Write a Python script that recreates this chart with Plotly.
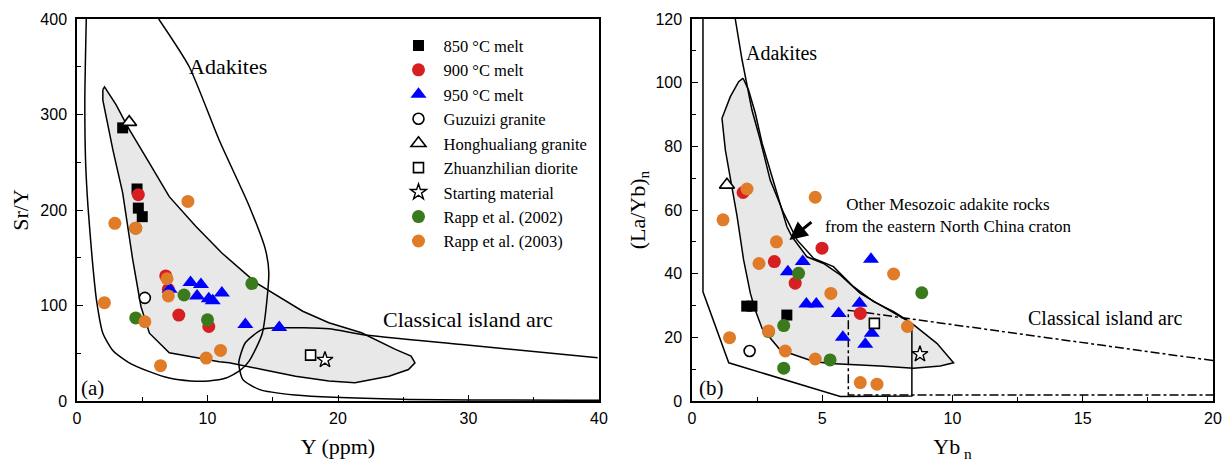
import plotly.graph_objects as go
from plotly.subplots import make_subplots

# ---------------- Panel (a): Sr/Y vs Y ----------------
a_850_x = [3.5, 4.6, 4.7, 5.0]
a_850_y = [286, 222, 202, 193]
a_900_x = [4.7, 6.8, 7.0, 7.8, 10.1]
a_900_y = [216, 131, 117, 90, 78]
a_950_x = [7.1, 8.7, 9.5, 9.2, 10.1, 10.4, 11.1, 12.9, 15.5]
a_950_y = [117, 124, 122, 110, 107, 105, 113, 80, 77]
a_guz_x, a_guz_y = [5.2], [108]
a_hong_x, a_hong_y = [4.0], [292]
a_zhuan_x, a_zhuan_y = [17.9], [48]
a_start_x, a_start_y = [19.0], [43]
a_r02_x = [4.5, 4.5, 8.2, 10.0, 13.4]
a_r02_y = [181, 87, 111, 85, 123]
a_r03_x = [2.9, 4.5, 8.5, 6.9, 7.0, 2.1, 5.2, 6.4, 9.9, 11.0]
a_r03_y = [186, 181, 209, 128, 110, 103, 83, 37, 45, 53]

# field boundaries (a)
a_adak_x = [0.71, 0.6, 0.66, 0.84, 1.17, 1.5, 1.98, 2.8, 4.0, 5.5, 7.07, 8.7, 10.1, 11.4, 12.5, 13.2, 14.2, 14.7, 14.45, 13.2, 10.9, 8.6, 6.26]
a_adak_y = [400, 315, 250, 204, 148, 105, 71, 52, 40, 31, 24, 21, 21, 24, 32, 42, 71, 134, 158, 204, 273, 350, 400]
a_meso_x = [1.98, 2.11, 3.0, 3.89, 5.55, 7.07, 9.1, 11.1, 13.7, 17.3, 19.3, 21.8, 24.4, 25.6, 25.9, 25.4, 23.9, 21.3, 19.3, 16.75, 14.2, 11.66, 10.9, 7.07, 5.55, 4.9, 4.27, 3.5, 2.75, 1.98, 1.98]
a_meso_y = [326, 329, 310, 287, 249, 214, 183, 155, 124, 94, 82, 71.5, 54, 47, 40, 33, 26, 19.2, 20.9, 26, 33, 40, 41, 50.5, 71, 99, 148, 218, 263, 315, 326]
a_arc_x = [39.9, 29.5, 21.8, 19.3, 15.5, 14.2, 12.9, 12.4, 12.7, 13.95, 16.7, 24.9, 40.0]
a_arc_y = [45.3, 59.2, 69.7, 75.6, 76.7, 75, 61, 40, 22.7, 12.2, 6.3, 1.8, 0.8]

# ---------------- Panel (b): (La/Yb)n vs Ybn ----------------
b_850_x = [2.1, 2.3, 3.64]
b_850_y = [29.8, 29.8, 27]
b_900_x = [1.96, 3.16, 3.96, 4.99, 6.46]
b_900_y = [65.5, 43.8, 37, 48, 27.5]
b_950_x = [3.68, 4.25, 4.39, 4.77, 5.63, 6.43, 5.79, 6.65, 6.9, 6.87]
b_950_y = [40.6, 43.8, 30.5, 30.5, 27.5, 30.7, 20, 17.8, 21.3, 44.5]
b_guz_x, b_guz_y = [2.21], [15.7]
b_hong_x, b_hong_y = [1.34], [67.9]
b_zhuan_x, b_zhuan_y = [7.0], [24.4]
b_start_x, b_start_y = [8.75], [14.7]
b_r02_x = [4.09, 3.52, 2.94, 3.52, 5.3, 8.82]
b_r02_y = [40.1, 23.7, 21.8, 10.3, 12.9, 34]
b_r03_x = [2.11, 1.19, 4.73, 3.24, 2.57, 5.33, 7.74, 2.94, 1.44, 3.58, 4.73, 6.46, 7.1, 8.27]
b_r03_y = [66.6, 56.9, 64, 50, 43.2, 33.8, 39.9, 22, 19.9, 15.7, 13.2, 5.8, 5.3, 23.4]

b_adak_x = [0.42, 0.42, 1.41, 5.69, 8.44, 8.44, 8.25, 7.74, 6.97, 6.2, 5.43, 4.67, 4.03, 3.52, 3.0, 2.62, 2.3, 2.11, 1.92, 1.66]
b_adak_y = [120, 34.3, 12, 1.4, 1.6, 23.9, 25.4, 28.1, 31.2, 35.9, 42.2, 44.8, 50.6, 59, 69.4, 82, 91.4, 99.8, 107.2, 120]
b_meso_x = [1.96, 2.17, 2.43, 2.69, 3.07, 3.64, 3.84, 4.41, 5.05, 5.69, 6.46, 7.22, 7.99, 8.44, 9.4, 10.04, 9.53, 8.5, 7.22, 5.3, 4.67, 3.39, 2.69, 2.43, 2.24, 1.98, 1.73, 1.47, 1.28, 1.15, 1.47, 1.79, 1.96]
b_meso_y = [101.4, 97.7, 90.4, 81, 70.5, 54.8, 51.6, 45.3, 43.2, 39.6, 33.8, 30.2, 26.5, 24.4, 18.1, 12.0, 11, 10.3, 11, 11.8, 12.4, 16, 22.8, 28.5, 33.8, 44.3, 58, 69.4, 78.8, 88.8, 95.6, 100.3, 101.4]
b_arc_x = [20.0, 6.0, 6.0, 20.0]
b_arc_y = [12.7, 28.5, 1.9, 1.9]

# ---------------- styles ----------------
SERIF = "Liberation Serif"
SANS = "Liberation Sans"
series = [
    ("850 °C melt", dict(symbol="square", color="black", size=11, line=dict(width=0)), (a_850_x, a_850_y), (b_850_x, b_850_y), 1),
    ("900 °C melt", dict(symbol="circle", color="#d71f22", size=13, line=dict(width=0)), (a_900_x, a_900_y), (b_900_x, b_900_y), 2),
    ("950 °C melt", dict(symbol="triangle-up", color="#0000ff", size=14, line=dict(width=0)), (a_950_x, a_950_y), (b_950_x, b_950_y), 3),
    ("Guzuizi granite", dict(symbol="circle", color="white", size=11, line=dict(width=1.6, color="black")), (a_guz_x, a_guz_y), (b_guz_x, b_guz_y), 4),
    ("Honghualiang granite", dict(symbol="triangle-up", color="white", size=13, line=dict(width=1.6, color="black")), (a_hong_x, a_hong_y), (b_hong_x, b_hong_y), 5),
    ("Zhuanzhilian diorite", dict(symbol="square", color="white", size=10, line=dict(width=1.6, color="black")), (a_zhuan_x, a_zhuan_y), (b_zhuan_x, b_zhuan_y), 6),
    ("Starting material", dict(symbol="star", color="white", size=12, line=dict(width=1.4, color="black")), (a_start_x, a_start_y), (b_start_x, b_start_y), 7),
    ("Rapp et al. (2002)", dict(symbol="circle", color="#3a7a1c", size=13, line=dict(width=0)), (a_r02_x, a_r02_y), (b_r02_x, b_r02_y), 8),
    ("Rapp et al. (2003)", dict(symbol="circle", color="#e07b27", size=13, line=dict(width=0)), (a_r03_x, a_r03_y), (b_r03_x, b_r03_y), 9),
]

fig = make_subplots(rows=1, cols=2, horizontal_spacing=0.0)

LINE = dict(color="black", width=1.5)
# Fields panel (a)
fig.add_trace(go.Scatter(x=a_meso_x, y=a_meso_y, mode="lines", fill="toself", fillcolor="#e8e8e8",
                         line=LINE, showlegend=False, hoverinfo="skip"), row=1, col=1)
fig.add_trace(go.Scatter(x=a_adak_x, y=a_adak_y, mode="lines", line=dict(LINE, shape="spline", smoothing=0.6),
                         showlegend=False, hoverinfo="skip"), row=1, col=1)
fig.add_trace(go.Scatter(x=a_arc_x, y=a_arc_y, mode="lines", line=dict(LINE, shape="spline", smoothing=0.6),
                         showlegend=False, hoverinfo="skip"), row=1, col=1)
# Fields panel (b)
fig.add_trace(go.Scatter(x=b_meso_x, y=b_meso_y, mode="lines", fill="toself", fillcolor="#e8e8e8",
                         line=LINE, showlegend=False, hoverinfo="skip"), row=1, col=2)
fig.add_trace(go.Scatter(x=b_adak_x, y=b_adak_y, mode="lines", line=LINE,
                         showlegend=False, hoverinfo="skip"), row=1, col=2)
fig.add_trace(go.Scatter(x=b_arc_x, y=b_arc_y, mode="lines", line=dict(color="black", width=1.5, dash="dashdot"),
                         showlegend=False, hoverinfo="skip"), row=1, col=2)

# Draw order: 850, 900, 950, open symbols, Rapp 2002, Rapp 2003
for name, mk, (ax_, ay_), (bx_, by_), rank in series:
    fig.add_trace(go.Scatter(x=ax_, y=ay_, mode="markers", name=name, marker=mk,
                             legendgroup=name, showlegend=True, legendrank=rank), row=1, col=1)
    fig.add_trace(go.Scatter(x=bx_, y=by_, mode="markers", name=name, marker=mk,
                             legendgroup=name, showlegend=False), row=1, col=2)

axis_common = dict(showline=True, linecolor="black", linewidth=1.5, mirror=True, ticks="inside",
                   ticklen=6, tickwidth=1.2, tickcolor="black", showgrid=False, zeroline=False,
                   automargin=False,
                   tickfont=dict(family=SANS, size=16, color="black"),
                   minor=dict(ticks="inside", ticklen=4, tickwidth=1.2, tickcolor="black", showgrid=False))

fig.update_xaxes(axis_common)
fig.update_yaxes(axis_common)

TF = dict(family=SERIF, size=22, color="black")
fig.update_xaxes(range=[0, 40], dtick=10, minor_dtick=5, domain=[0, 0.4595], row=1, col=1,
                 ticklabelstandoff=2, title=dict(text="Y (ppm)", font=TF, standoff=13))
fig.update_yaxes(range=[0, 400], dtick=100, minor_dtick=50, row=1, col=1,
                 ticklabelstandoff=5, title=dict(text="Sr/Y", font=TF, standoff=12))
fig.update_xaxes(range=[0, 20], dtick=5, minor_dtick=2.5, domain=[0.5414, 1.0], row=1, col=2,
                 ticklabelstandoff=2, title=dict(text="Yb<sub> n</sub>", font=TF, standoff=13))
fig.update_yaxes(range=[0, 120], dtick=20, minor_dtick=10, row=1, col=2,
                 ticklabelstandoff=5, title=dict(text="(La/Yb)<sub>n</sub>", font=TF, standoff=4))

def txt(x, y, s, size, xref, yref, **kw):
    fig.add_annotation(x=x, y=y, text=s, xref=xref, yref=yref, showarrow=False,
                       font=dict(family=SERIF, size=size, color="black"), **kw)

txt(11.6, 350, "Adakites", 22, "x", "y")
txt(30.0, 85, "Classical island arc", 22, "x", "y")
txt(1.22, 14, "(a)", 21, "x", "y")
txt(3.42, 109.3, "Adakites", 20, "x2", "y2")
txt(15.87, 26.0, "Classical island arc", 20, "x2", "y2")
txt(0.75, 4.0, "(b)", 21, "x2", "y2")
txt(9.83, 58.3, "Other Mesozoic adakite rocks<br>from the eastern North China craton", 17, "x2", "y2", align="center")

fig.add_annotation(x=3.74, y=50.6, ax=4.64, ay=56.6, xref="x2", yref="y2", axref="x2", ayref="y2",
                   showarrow=True, arrowhead=2, arrowsize=1.2, arrowwidth=3, arrowcolor="black", text="")

fig.update_layout(
    width=1222, height=456,
    margin=dict(l=69, t=11, r=17, b=63, autoexpand=False),
    paper_bgcolor="white", plot_bgcolor="white",
    legend=dict(x=0.2786, y=0.976, xanchor="left", yanchor="top", bgcolor="rgba(0,0,0,0)",
                tracegroupgap=0, itemwidth=40,
                font=dict(family=SERIF, size=16.5, color="black"), itemsizing="trace"),
)

fig.write_html("out.html")
